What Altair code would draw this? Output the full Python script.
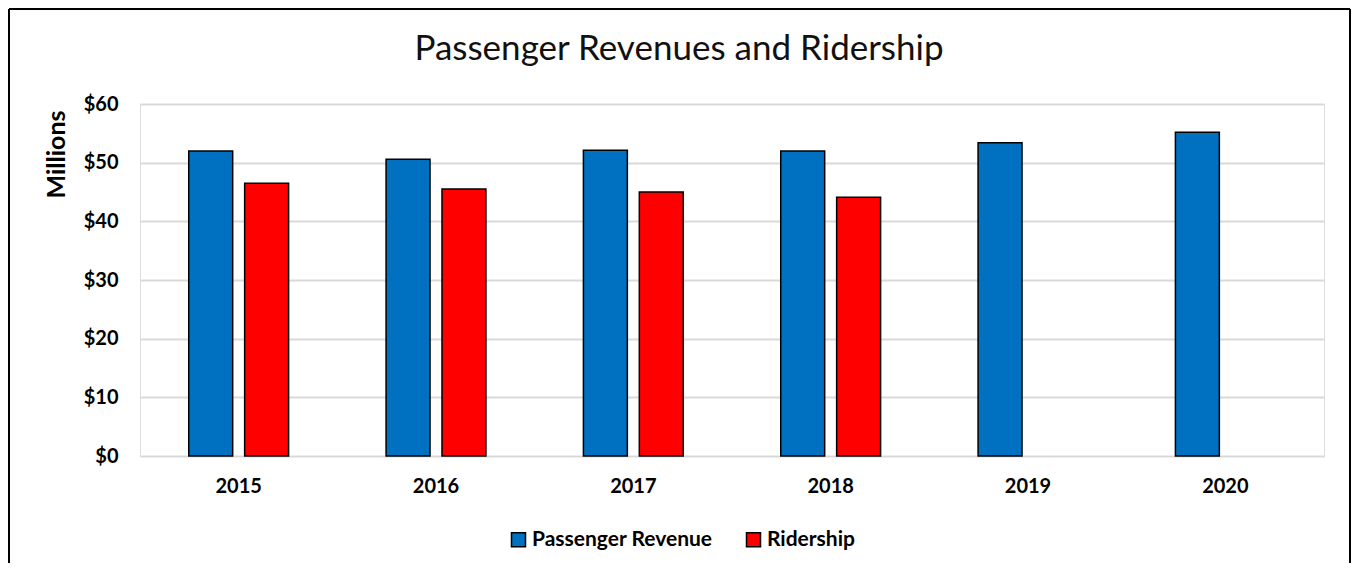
import altair as alt
import pandas as pd

years = ["2015", "2016", "2017", "2018", "2019", "2020"]
revenue = [52.0, 50.6, 52.1, 52.0, 53.4, 55.2]
ridership_years = ["2015", "2016", "2017", "2018"]
ridership = [46.5, 45.5, 45.0, 44.1]
series_names = ["Passenger Revenue", "Ridership"]
series_colors = ["#0070C0", "#FF0000"]
y_ticks = [0, 10, 20, 30, 40, 50, 60]

rows = []
for y, v in zip(years, revenue):
    rows.append({"year": y, "series": series_names[0], "value": v})
for y, v in zip(ridership_years, ridership):
    rows.append({"year": y, "series": series_names[1], "value": v})
df = pd.DataFrame(rows)

W, H = 1184, 352
PAD_L, PAD_T, PAD_R, PAD_B = 132, 96, 27, 107
FONT = "Lato"

bars = alt.Chart(df).mark_bar(stroke="black", strokeWidth=1.5).encode(
    x=alt.X("year:N", sort=years,
            scale=alt.Scale(paddingInner=0.494, paddingOuter=0.247),
            axis=alt.Axis(title=None, labelAngle=0, domain=False, ticks=False,
                          labelPadding=20, labelFontSize=20, labelFontWeight="bold",
                          labelFont=FONT, labelColor="black", grid=False)),
    xOffset=alt.XOffset("series:N", sort=series_names,
                        scale=alt.Scale(paddingInner=0.214, paddingOuter=0)),
    y=alt.Y("value:Q",
            scale=alt.Scale(domain=[0, 60], nice=False),
            axis=alt.Axis(values=y_ticks, format="$.0f", domain=False, ticks=False,
                          labelPadding=22, labelFontSize=20, labelFontWeight="bold",
                          labelFont=FONT, labelColor="black",
                          gridColor="#d9d9d9", gridWidth=2,
                          title="Millions", titleFont=FONT, titleFontSize=25,
                          titleFontWeight="bold", titleColor="black",
                          titleAngle=270, titleAlign="right", titleBaseline="alphabetic",
                          titleX=-76, titleY=6)),
    color=alt.Color("series:N", sort=series_names,
                    scale=alt.Scale(domain=series_names, range=series_colors),
                    legend=alt.Legend(title=None, orient="none", direction="horizontal",
                                      legendX=368, legendY=425, padding=0,
                                      symbolType="square", symbolSize=196,
                                      symbolStrokeColor="black", symbolStrokeWidth=1.5,
                                      labelFont=FONT, labelFontSize=21, labelFontWeight="bold",
                                      labelColor="black", labelOffset=3, columnPadding=30,
                                      labelLimit=400)),
)

one = pd.DataFrame({"a": [0]})
left_b = alt.Chart(one).mark_rule(color="black", strokeWidth=2).encode(
    x=alt.value(-PAD_L + 1), y=alt.value(-PAD_T + 1), y2=alt.value(H + PAD_B))
top_b = alt.Chart(one).mark_rule(color="black", strokeWidth=2).encode(
    x=alt.value(-PAD_L + 1), x2=alt.value(W + PAD_R - 1), y=alt.value(-PAD_T + 1))
right_b = alt.Chart(one).mark_rule(color="black", strokeWidth=2).encode(
    x=alt.value(W + PAD_R - 1), y=alt.value(-PAD_T + 1), y2=alt.value(H + PAD_B))

chart = alt.layer(bars, left_b, top_b, right_b).properties(
    width=W, height=H,
    title=alt.TitleParams("Passenger Revenues and Ridership", font=FONT, fontSize=35,
                          fontWeight="normal", color="#111111", anchor="middle",
                          baseline="alphabetic", offset=0, dy=87, dx=-53),
    autosize=alt.AutoSizeParams(type="none"),
    padding={"left": PAD_L, "top": PAD_T, "right": PAD_R, "bottom": PAD_B},
).configure_view(stroke=None).configure(background="white")

chart.save("out.html", embed_options={"renderer": "svg", "actions": False})
